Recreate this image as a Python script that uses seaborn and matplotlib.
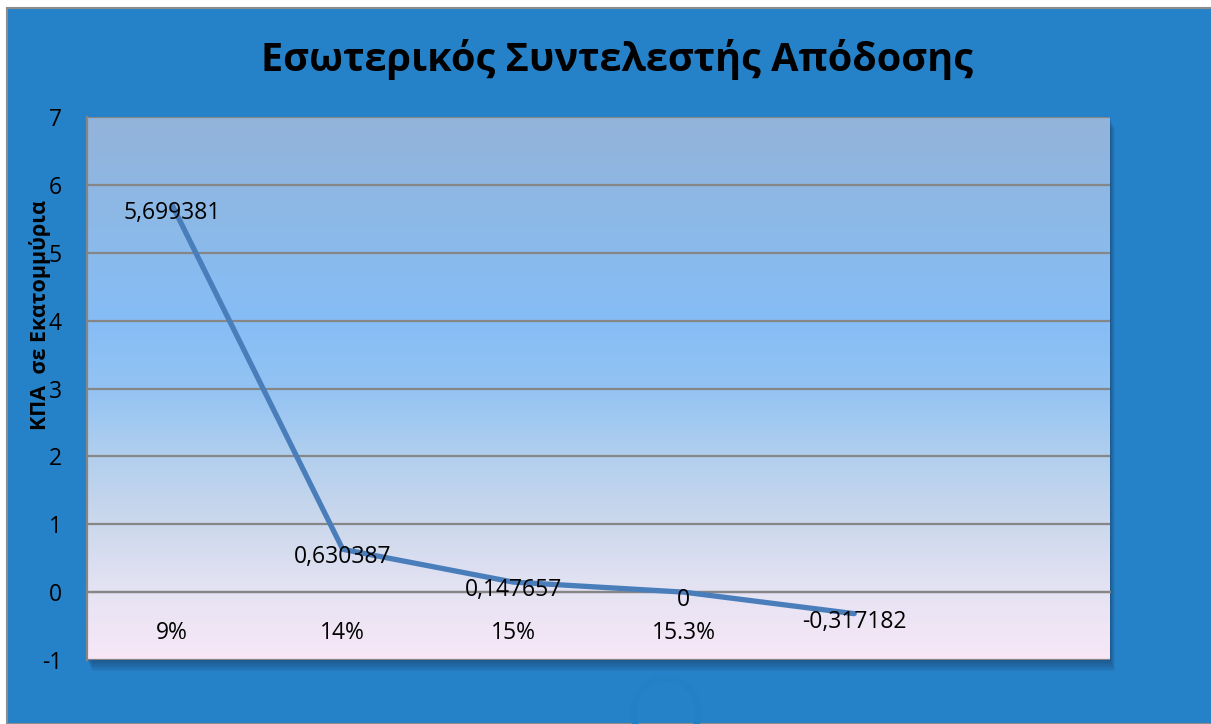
import numpy as np
import seaborn as sns
import matplotlib.pyplot as plt
from matplotlib.patches import Rectangle, Ellipse
from matplotlib.colors import LinearSegmentedColormap
from matplotlib.ticker import FixedLocator

# Data
categories = ['9%', '14%', '15%', '15.3%', '', '']
npv_values = [5.699381, 0.630387, 0.147657, 0, -0.317182]
value_labels = ['5,699381', '0,630387', '0,147657', '0', '-0,317182']
y_ticks = [-1, 0, 1, 2, 3, 4, 5, 6, 7]

W, H = 1211, 724
BG = '#2682c8'
GRID = '#868686'

sns.set_style('white')
plt.rcParams['font.family'] = ['Open Sans', 'DejaVu Sans']

fig = plt.figure(figsize=(W / 100, H / 100), dpi=100, facecolor='white')

# blue chart area with thin grey border
fig.add_artist(Rectangle((7 / W, 0), 1, 1 - 8 / H, transform=fig.transFigure,
                         facecolor=BG, edgecolor='#8c8c8c', lw=1.5, zorder=0))

# faint ring at the bottom
fig.add_artist(Ellipse((666 / W, 1 - 712 / H), 66 / W, 66 / H, transform=fig.transFigure,
                       fill=False, edgecolor='#2380c5', lw=4.5, zorder=0.5))

# plot area position
left, bottom = 87 / W, 1 - 660 / H
width, height = 1023 / W, 543 / H

# soft shadow around the plot area
for i in range(1, 9):
    fig.add_artist(Rectangle((left + i * 0.6 / W, bottom - i * 1.4 / H), width, height,
                             transform=fig.transFigure, facecolor='#1a3f6a',
                             edgecolor='none', alpha=0.09, zorder=0.6))

ax = fig.add_axes([left, bottom, width, height])
ax.set_zorder(2)
ax.set_facecolor('none')

# vertical gradient inside the plot area
stops = [(0.0, '#f8e7f7'), (0.125, '#e5e3f3'), (0.25, '#ccd8ec'), (0.375, '#b1cfee'),
         (0.5, '#93c3f3'), (0.625, '#86bdf6'), (0.8, '#8cb9e8'), (1.0, '#93b3da')]
cmap = LinearSegmentedColormap.from_list('bg', stops)
grad = np.linspace(0, 1, 256).reshape(-1, 1)
ax.imshow(grad, cmap=cmap, aspect='auto', origin='lower',
          extent=[-0.5, len(categories) - 0.5, -1, 7], zorder=0)

positions = np.arange(len(npv_values))
sns.lineplot(x=positions, y=npv_values, ax=ax, color='#4a7ebb', lw=3.8,
             solid_capstyle='round', solid_joinstyle='round', zorder=3)

for x, y, lab in zip(positions, npv_values, value_labels):
    ax.text(x, y - 0.12, lab, ha='center', va='center', fontsize=16.5, color='black', zorder=4)

ax.set_xlim(-0.5, len(categories) - 0.5)
ax.set_ylim(-1, 7)
ax.set_yticks(y_ticks)
ax.set_yticklabels([str(t) for t in y_ticks], fontsize=16.5, color='black')
ax.grid(axis='y', color=GRID, lw=1.6)
ax.set_axisbelow(False)
ax.tick_params(axis='y', direction='out', length=7, width=1.6, color=GRID, pad=11)

# category axis crossing at zero
ax.spines['bottom'].set_position(('data', 0))
ax.spines['bottom'].set_color(GRID)
ax.spines['bottom'].set_linewidth(1.6)
ax.spines['left'].set_color(GRID)
ax.spines['left'].set_linewidth(1.6)
ax.spines['top'].set_visible(False)
ax.spines['right'].set_visible(False)
ax.set_xticks(np.arange(len(categories)))
ax.set_xticklabels(categories, fontsize=16.5, color='black')
ax.xaxis.set_minor_locator(FixedLocator(np.arange(0.5, len(categories), 1)))
ax.tick_params(axis='x', which='major', length=0, pad=21)
ax.tick_params(axis='x', which='minor', direction='out', length=6.5, width=1.6, color=GRID)
ax.set_xlabel('')
ax.set_ylabel('')

fig.text(40 / W, 1 - 315 / H, 'ΚΠΑ  σε Εκατομμύρια', rotation=90, ha='center', va='center',
         fontsize=15.5, fontweight='bold', color='black')
fig.text(617 / W, 1 - 60 / H, 'Εσωτερικός Συντελεστής Απόδοσης', ha='center', va='center',
         fontsize=28.5, fontweight='bold', color='black')

fig.savefig('out.png', dpi=100, facecolor='white')
